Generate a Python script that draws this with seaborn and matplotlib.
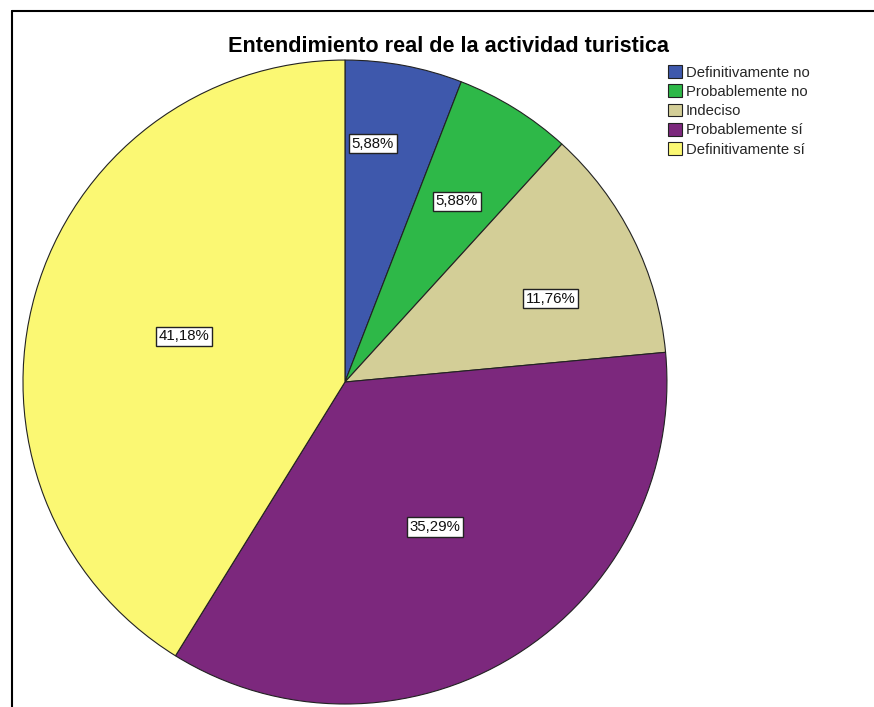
import matplotlib
matplotlib.use('Agg')
import matplotlib.pyplot as plt
from matplotlib.lines import Line2D
import numpy as np
import seaborn as sns

sns.set_style('white')
plt.rcParams['font.family'] = ['Liberation Sans', 'DejaVu Sans']

# Data
categories = ['Definitivamente no', 'Probablemente no', 'Indeciso',
              'Probablemente sí', 'Definitivamente sí']
counts = [1, 1, 2, 6, 7]
colors = ['#3e58ac', '#2eb848', '#d3ce97', '#7c287d', '#fbf873']
# label placement: radial fraction and angular nudge (degrees)
label_dist = [0.745, 0.66, 0.69, 0.53, 0.52]
label_nudge = [3.9, 0, -4.4, 0, 0]

palette = sns.color_palette(colors)
total = sum(counts)

fig = plt.figure(figsize=(8.74, 7.07), dpi=100)
ax = fig.add_axes([0.0263, 0.0042, 0.7368, 0.9109])

wedges, _ = ax.pie(counts, colors=palette, startangle=90, counterclock=False,
                   radius=1.0,
                   wedgeprops=dict(edgecolor='#222222', linewidth=0.8))
ax.set_xlim(-1, 1)
ax.set_ylim(-1, 1)
ax.set_aspect('equal')
ax.axis('off')

for w, c, d, n in zip(wedges, counts, label_dist, label_nudge):
    ang = np.deg2rad((w.theta1 + w.theta2) / 2 + n)
    pct = f'{c / total * 100:.2f}%'.replace('.', ',')
    ax.text(d * np.cos(ang), d * np.sin(ang), pct, ha='center', va='center',
            fontsize=10.8, color='#111111',
            bbox=dict(boxstyle='square,pad=0.18', fc='white', ec='#222222', lw=1))

fig.text(0.5126, 0.934, 'Entendimiento real de la actividad turistica',
         ha='center', va='center', fontsize=15.6, fontweight='bold', color='black')

fig.legend(wedges, categories, loc='upper left',
           bbox_to_anchor=(668 / 874, 1 - 65 / 707), frameon=False,
           fontsize=10.7, handlelength=0.95, handleheight=0.95,
           handletextpad=0.25, labelspacing=0.32, borderpad=0, borderaxespad=0)

# outer frame (left and top edges)
fig.add_artist(Line2D([12 / 874, 12 / 874], [0, 1 - 11 / 707],
                      transform=fig.transFigure, color='black', lw=1.5))
fig.add_artist(Line2D([12 / 874, 1], [1 - 11 / 707, 1 - 11 / 707],
                      transform=fig.transFigure, color='black', lw=1.5))

fig.savefig('out.png', dpi=100, facecolor='white')
